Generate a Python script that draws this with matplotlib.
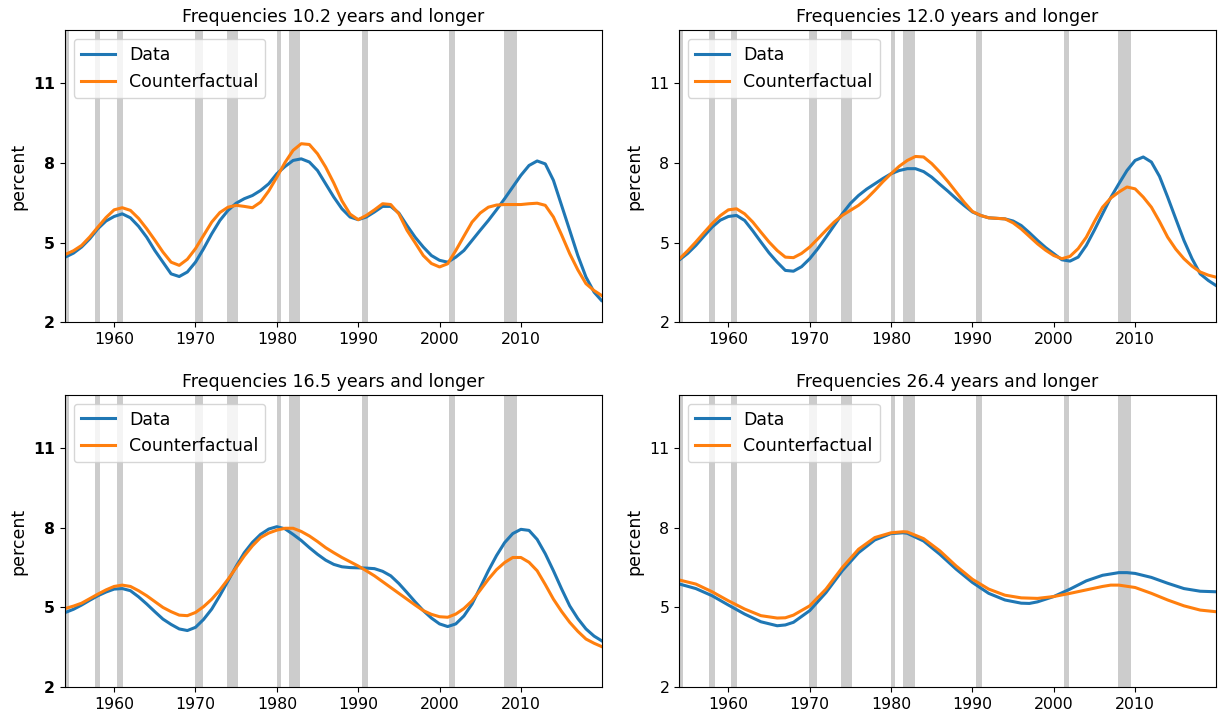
import matplotlib
matplotlib.use("Agg")
import matplotlib.pyplot as plt

# recession periods (NBER), in fractional years
recessions = [(1953.5, 1954.4), (1957.6, 1958.3), (1960.3, 1961.1), (1969.9, 1970.9),
              (1973.9, 1975.2), (1980.0, 1980.5), (1981.5, 1982.9), (1990.5, 1991.2),
              (2001.2, 2001.9), (2007.9, 2009.5)]

titles = ["Frequencies 10.2 years and longer", "Frequencies 12.0 years and longer",
          "Frequencies 16.5 years and longer", "Frequencies 26.4 years and longer"]

# yearly readings for panels 1-3
years = list(range(1954, 2020)) + [2019.9]

# panel 1: 10.2 years
p1_data = [4.46, 4.61, 4.84, 5.15, 5.53, 5.82, 5.99, 6.09, 5.94, 5.62,
           5.21, 4.71, 4.27, 3.83, 3.73, 3.90, 4.27, 4.78, 5.34, 5.84,
           6.22, 6.49, 6.66, 6.78, 6.97, 7.22, 7.60, 7.87, 8.10, 8.16,
           8.04, 7.72, 7.22, 6.72, 6.28, 5.97, 5.87, 5.97, 6.16, 6.37,
           6.37, 6.12, 5.65, 5.21, 4.84, 4.52, 4.34, 4.27, 4.46, 4.71,
           5.09, 5.47, 5.84, 6.24, 6.66, 7.10, 7.54, 7.91, 8.08, 7.97,
           7.35, 6.41, 5.47, 4.52, 3.71, 3.14, 2.83]
p1_cf = [4.56, 4.70, 4.90, 5.22, 5.59, 5.95, 6.24, 6.32, 6.22, 5.92,
         5.53, 5.10, 4.65, 4.27, 4.15, 4.38, 4.78, 5.28, 5.78, 6.14,
         6.34, 6.41, 6.37, 6.32, 6.53, 6.95, 7.47, 8.02, 8.48, 8.73,
         8.70, 8.35, 7.85, 7.25, 6.58, 6.08, 5.87, 6.03, 6.24, 6.47,
         6.44, 6.09, 5.47, 5.00, 4.52, 4.22, 4.09, 4.21, 4.71, 5.25,
         5.78, 6.12, 6.34, 6.42, 6.44, 6.44, 6.44, 6.47, 6.49, 6.41,
         5.97, 5.30, 4.59, 3.98, 3.46, 3.20, 3.02]

# panel 2: 12.0 years
p2_data = [4.36, 4.60, 4.90, 5.25, 5.59, 5.85, 5.99, 6.03, 5.84, 5.45,
           5.03, 4.62, 4.27, 3.96, 3.93, 4.10, 4.40, 4.78, 5.21, 5.65,
           6.09, 6.48, 6.78, 7.02, 7.22, 7.42, 7.60, 7.72, 7.79, 7.79,
           7.68, 7.47, 7.20, 6.94, 6.66, 6.40, 6.16, 6.03, 5.94, 5.92,
           5.90, 5.82, 5.65, 5.38, 5.09, 4.82, 4.59, 4.36, 4.31, 4.46,
           4.90, 5.48, 6.09, 6.70, 7.22, 7.72, 8.10, 8.23, 8.04, 7.50,
           6.72, 5.90, 5.09, 4.40, 3.83, 3.58, 3.40]
p2_cf = [4.40, 4.70, 5.03, 5.38, 5.72, 6.02, 6.24, 6.28, 6.09, 5.78,
         5.40, 5.03, 4.71, 4.46, 4.44, 4.60, 4.84, 5.15, 5.47, 5.78,
         6.03, 6.22, 6.41, 6.66, 6.97, 7.30, 7.60, 7.88, 8.10, 8.25,
         8.23, 7.98, 7.66, 7.30, 6.91, 6.52, 6.18, 6.03, 5.94, 5.92,
         5.90, 5.75, 5.52, 5.24, 4.96, 4.72, 4.52, 4.40, 4.49, 4.78,
         5.21, 5.80, 6.34, 6.68, 6.91, 7.10, 7.03, 6.72, 6.34, 5.80,
         5.21, 4.76, 4.40, 4.12, 3.90, 3.78, 3.71]

# panel 3: 16.5 years
p3_data = [4.81, 4.93, 5.09, 5.27, 5.44, 5.58, 5.69, 5.71, 5.63, 5.40,
           5.13, 4.84, 4.56, 4.36, 4.19, 4.13, 4.25, 4.55, 4.94, 5.45,
           6.00, 6.55, 7.06, 7.45, 7.75, 7.95, 8.04, 7.96, 7.75, 7.52,
           7.25, 7.00, 6.78, 6.62, 6.53, 6.50, 6.49, 6.48, 6.46, 6.36,
           6.19, 5.90, 5.56, 5.21, 4.88, 4.60, 4.38, 4.28, 4.38, 4.68,
           5.13, 5.75, 6.38, 6.95, 7.44, 7.78, 7.94, 7.90, 7.56, 7.02,
           6.38, 5.70, 5.06, 4.58, 4.19, 3.92, 3.75]
p3_cf = [4.96, 5.05, 5.16, 5.33, 5.50, 5.66, 5.79, 5.84, 5.79, 5.63,
         5.44, 5.22, 5.00, 4.84, 4.71, 4.69, 4.81, 5.03, 5.31, 5.66,
         6.06, 6.50, 6.94, 7.32, 7.63, 7.80, 7.91, 7.98, 7.98, 7.86,
         7.69, 7.48, 7.25, 7.06, 6.88, 6.72, 6.56, 6.38, 6.19, 5.97,
         5.75, 5.53, 5.31, 5.09, 4.88, 4.74, 4.65, 4.63, 4.75, 4.96,
         5.25, 5.65, 6.06, 6.42, 6.69, 6.88, 6.88, 6.70, 6.38, 5.86,
         5.31, 4.85, 4.44, 4.10, 3.81, 3.65, 3.53]

# panel 4: 26.4 years
p4_data_x = [1954, 1956, 1958, 1960, 1962, 1964, 1966, 1967, 1968, 1970, 1972, 1974, 1976, 1978,
             1980, 1981.5, 1982, 1984, 1986, 1988, 1990, 1992, 1994, 1996, 1997, 1998, 2000, 2002,
             2004, 2006, 2008, 2009, 2010, 2012, 2014, 2016, 2018, 2019.9]
p4_data_y = [5.88, 5.71, 5.44, 5.09, 4.75, 4.46, 4.31, 4.34, 4.44, 4.88, 5.56, 6.38, 7.06, 7.54,
             7.78, 7.81, 7.79, 7.50, 7.00, 6.44, 5.94, 5.53, 5.28, 5.16, 5.15, 5.21, 5.41, 5.69,
             6.00, 6.21, 6.31, 6.31, 6.28, 6.13, 5.91, 5.71, 5.61, 5.59]
p4_cf_x = [1954, 1956, 1958, 1960, 1962, 1964, 1966, 1967, 1968, 1970, 1972, 1974, 1976, 1978,
           1980, 1981.5, 1982, 1984, 1986, 1988, 1990, 1992, 1994, 1996, 1998, 2000, 2002, 2004,
           2006, 2007, 2008, 2010, 2012, 2014, 2016, 2018, 2019.9]
p4_cf_y = [6.03, 5.88, 5.59, 5.25, 4.94, 4.69, 4.60, 4.61, 4.71, 5.06, 5.69, 6.50, 7.19, 7.63,
           7.81, 7.85, 7.84, 7.59, 7.13, 6.56, 6.06, 5.69, 5.46, 5.36, 5.34, 5.41, 5.53, 5.66,
           5.79, 5.84, 5.84, 5.75, 5.53, 5.28, 5.06, 4.90, 4.84]

panels = [(years, p1_data, years, p1_cf),
          (years, p2_data, years, p2_cf),
          (years, p3_data, years, p3_cf),
          (p4_data_x, p4_data_y, p4_cf_x, p4_cf_y)]

plt.rcParams['font.family'] = 'DejaVu Sans'
fig, axes = plt.subplots(2, 2, figsize=(12.25, 7.21), dpi=100)
fig.subplots_adjust(left=0.053, right=0.9927, top=0.958, bottom=0.047, wspace=0.144, hspace=0.248)

for i, ax in enumerate(axes.flat):
    dx, dy, cx, cy = panels[i]
    # shade recessions
    for (s, e) in recessions:
        ax.axvspan(s, e, color='#cccccc', lw=0, zorder=0)
    ax.plot(dx, dy, color='#1f77b4', lw=2.2, label='Data', solid_joinstyle='round')
    ax.plot(cx, cy, color='#ff7f0e', lw=2.2, label='Counterfactual', solid_joinstyle='round')
    ax.set_xlim(1953.95, 2019.95)
    ax.set_ylim(2, 13)
    ax.set_yticks([2, 5, 8, 11])
    ax.set_xticks([1960, 1970, 1980, 1990, 2000, 2010])
    ax.tick_params(labelsize=11.3)
    if i % 2 == 0:
        for lab in ax.get_yticklabels():
            lab.set_fontweight('bold')
    ax.set_ylabel('percent', fontsize=12.5)
    ax.set_title(titles[i], fontsize=12.5)
    ax.legend(loc='upper left', fontsize=12.5)

fig.savefig('out.png', dpi=100)
